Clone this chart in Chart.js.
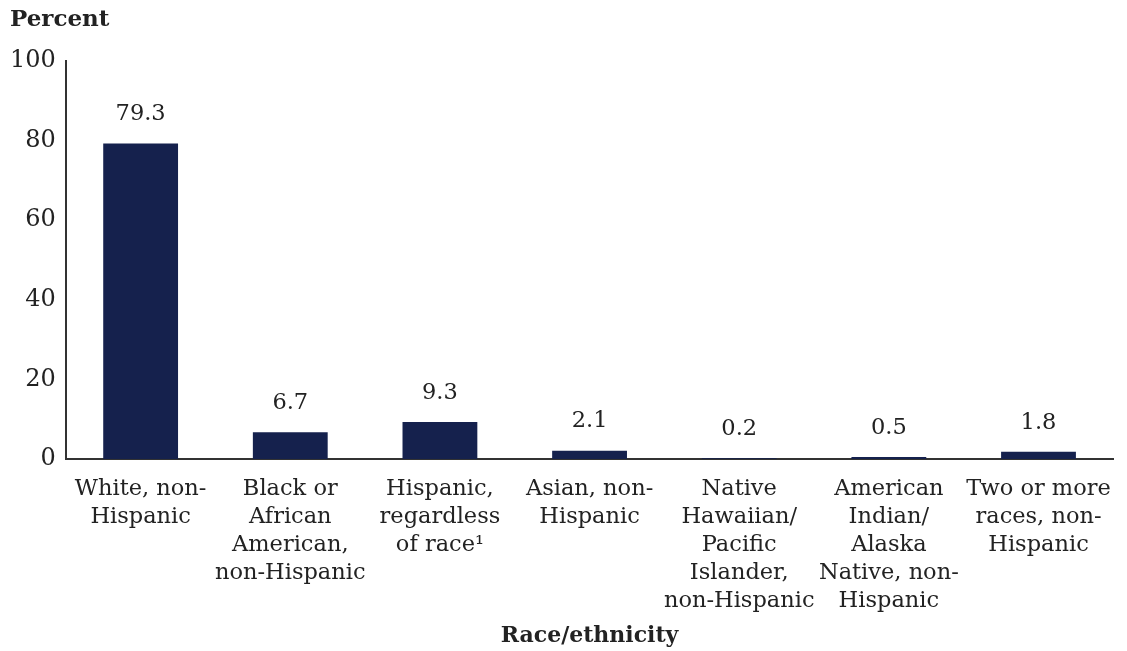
<!DOCTYPE html>
<html>
<head>
<meta charset="utf-8">
<script src="https://cdn.jsdelivr.net/npm/chart.js@4.4.1/dist/chart.umd.min.js"></script>
<style>
  html, body { margin: 0; padding: 0; background: #fff; }
  #wrap { width: 1127px; height: 651px; position: relative; }
</style>
</head>
<body>
<div id="wrap"><canvas id="c"></canvas></div>
<script>
const categories = [
  ['White, non-', 'Hispanic'],
  ['Black or', 'African', 'American,', 'non-Hispanic'],
  ['Hispanic,', 'regardless', 'of race\u00b9'],
  ['Asian, non-', 'Hispanic'],
  ['Native', 'Hawaiian/', 'Pacific', 'Islander,', 'non-Hispanic'],
  ['American', 'Indian/', 'Alaska', 'Native, non-', 'Hispanic'],
  ['Two or more', 'races, non-', 'Hispanic']
];
const percents = [79.3, 6.7, 9.3, 2.1, 0.2, 0.5, 1.8];
const yTicks = [0, 20, 40, 60, 80, 100];

const FONT = '"DejaVu Serif", "Liberation Serif", serif';
const INK = '#222';
const NAVY = '#15214d';

// value labels above each bar + the "Percent" heading
const labelPlugin = {
  id: 'valueLabels',
  afterDatasetsDraw(chart) {
    const ctx = chart.ctx;
    const meta = chart.getDatasetMeta(0);
    ctx.save();
    ctx.font = '22.5px ' + FONT;
    ctx.fillStyle = INK;
    ctx.textAlign = 'center';
    ctx.textBaseline = 'middle';
    meta.data.forEach((bar, i) => {
      ctx.fillText(percents[i].toFixed(1), bar.x, bar.y - 29);
    });
    ctx.font = 'bold 23px ' + FONT;
    ctx.textAlign = 'left';
    ctx.fillText('Percent', 10, 20);
    ctx.restore();
  }
};

new Chart(document.getElementById('c'), {
  type: 'bar',
  data: {
    labels: categories,
    datasets: [{
      data: percents,
      backgroundColor: NAVY,
      barPercentage: 0.5,
      categoryPercentage: 1.0
    }]
  },
  options: {
    responsive: true,
    maintainAspectRatio: false,
    animation: false,
    layout: { padding: { top: 61, right: 3, left: 0, bottom: 0 } },
    plugins: { legend: { display: false }, tooltip: { enabled: false } },
    scales: {
      x: {
        afterFit(scale) { scale.height = 192; },
        grid: { display: false, drawTicks: false },
        border: { display: true, color: '#333', width: 2 },
        ticks: {
          autoSkip: false, maxRotation: 0, padding: 16,
          color: INK, font: { family: FONT, size: 22.5, lineHeight: 1.25 }
        },
        title: {
          display: true, text: 'Race/ethnicity', color: INK,
          font: { family: FONT, size: 22, weight: 'bold' },
          padding: { top: 0, bottom: 2 }
        }
      },
      y: {
        min: 0, max: 100,
        afterBuildTicks(axis) { axis.ticks = yTicks.map(v => ({ value: v })); },
        grid: { display: false, drawTicks: false },
        border: { display: true, color: '#333', width: 2 },
        ticks: {
          padding: 10, color: INK,
          font: { family: FONT, size: 24 }
        }
      }
    }
  },
  plugins: [labelPlugin]
});
</script>
</body>
</html>
